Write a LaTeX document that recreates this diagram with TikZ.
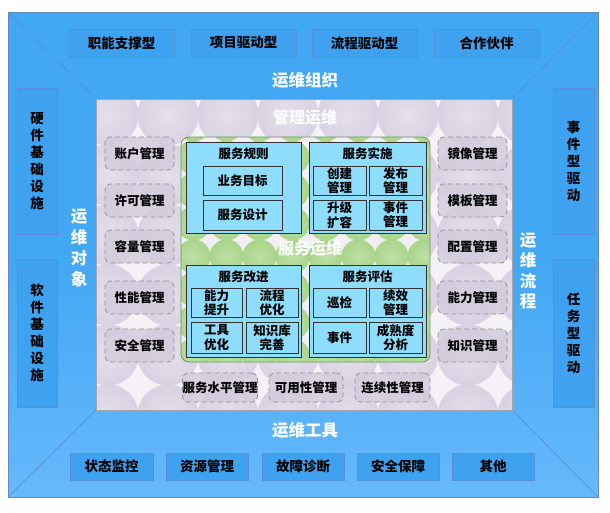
\documentclass[tikz,border=0pt]{standalone}
\usepackage{fontspec}
\setmainfont{Noto Sans CJK SC}
\usetikzlibrary{shadows}
\definecolor{frameblue}{HTML}{42A7F4}
\definecolor{framebot}{HTML}{66B9FB}
\definecolor{btnedge}{HTML}{5B8ED6}
\definecolor{btnfill}{HTML}{3FA2F0}
\definecolor{lav}{HTML}{D9D2E3}
\definecolor{lavgap}{HTML}{F4F2F7}
\definecolor{grn}{HTML}{A9D58A}
\definecolor{lblue}{HTML}{8EDDFC}
\definecolor{dashfill}{HTML}{D3CCDD}
\tikzset{
  btn/.style={draw=btnedge, fill=btnfill, line width=0.8pt, inner sep=0pt,
    font=\bfseries\fontsize{13.5}{16}\selectfont, text=black},
  sidebox/.style={btn, align=center, font=\bfseries\fontsize{13.5}{17}\selectfont},
  ttl/.style={text=white, font=\bfseries\fontsize{16.5}{20.5}\selectfont, inner sep=0pt, align=center},
  dbox/.style={draw=gray!85, dashed, dash pattern=on 5pt off 3pt, fill=dashfill, fill opacity=0.85, text opacity=1,
    rounded corners=6pt, inner sep=0pt, line width=0.8pt,
    font=\bfseries\fontsize{12.5}{15}\selectfont, text=black},
  lbox/.style={draw=black!80, fill=lblue, line width=0.8pt, inner sep=0pt,
    align=center, font=\bfseries\fontsize{12.5}{14.5}\selectfont, text=black},
  boxttl/.style={inner sep=0pt, font=\bfseries\fontsize{12.5}{15}\selectfont, text=black}
}
\begin{document}
\begin{tikzpicture}[x=1pt,y=-1pt]
\useasboundingbox (0,0) rectangle (610,512);
\fill[white] (0,0) rectangle (610,512);
% outer frame
\shade[top color=frameblue, bottom color=framebot, middle color=frameblue] (8,12) rectangle (598,497);
\draw[draw=btnedge!70!gray, line width=0.6pt] (8,12) rectangle (598,497);
\coordinate (o1) at (8,12); \coordinate (o2) at (598,12);
\coordinate (o3) at (598,497); \coordinate (o4) at (8,497);
\coordinate (i1) at (96,99); \coordinate (i2) at (512,99);
\coordinate (i3) at (512,410); \coordinate (i4) at (96,410);
\draw[btnedge, line width=0.6pt] (o1) -- (i1) (o2) -- (i2) (o3) -- (i3) (o4) -- (i4);
% inner patterned area
\begin{scope}
  \clip (96,99) rectangle (512,410);
  \fill[lavgap] (96,99) rectangle (512,410);
  \foreach \cx in {48,108,...,528} {
    \foreach \cy in {55,115,...,475} {
      \shade[inner color=lav!70, outer color=lav] (\cx,\cy) circle (30.5);
    }
  }
\end{scope}
\draw[gray!70, line width=0.8pt] (96,99) rectangle (512,410);
% green area
\begin{scope}
  \clip[rounded corners=8pt] (181,137) rectangle (430,362);
  \fill[lavgap!90!lav] (181,137) rectangle (430,362);
  \foreach \cx in {160.5,193.5,...,460} {
    \foreach \cy in {124.5,157.5,...,390} {
      \shade[inner color=grn!75, outer color=grn] (\cx,\cy) circle (17);
    }
  }
\end{scope}
\draw[gray!80!green, line width=0.8pt, rounded corners=8pt] (181,137) rectangle (430,362);

% titles
\node[ttl] (t1) at (305,80) {运维组织};
\node[ttl] (t2) at (305,430) {运维工具};
\node[ttl, font=\bfseries\fontsize{16.5}{20.7}\selectfont] (t3) at (79,248) {运\\维\\对\\象};
\node[ttl, font=\bfseries\fontsize{16.5}{20.5}\selectfont] (t4) at (528,271) {运\\维\\流\\程};
\node[ttl, text=white!95!lav, font=\bfseries\fontsize{16}{20}\selectfont] (t5) at (305,117) {管理运维};
\node[ttl, font=\bfseries\fontsize{16}{20}\selectfont] (t6) at (310,248) {服务运维};

% top buttons
\node[btn, minimum width=105pt, minimum height=28pt] (b1) at (121.5,43) {职能支撑型};
\node[btn, minimum width=105pt, minimum height=28pt] (b2) at (243.5,43) {项目驱动型};
\node[btn, minimum width=105pt, minimum height=28pt] (b3) at (364.5,43) {流程驱动型};
\node[btn, minimum width=105pt, minimum height=28pt] (b4) at (486.5,43) {合作伙伴};
% bottom buttons
\node[btn, minimum width=83pt, minimum height=27pt] (c1) at (111.5,466.5) {状态监控};
\node[btn, minimum width=82pt, minimum height=27pt] (c2) at (207,466.5) {资源管理};
\node[btn, minimum width=82pt, minimum height=27pt] (c3) at (303,466.5) {故障诊断};
\node[btn, minimum width=82pt, minimum height=27pt] (c4) at (398,466.5) {安全保障};
\node[btn, minimum width=82pt, minimum height=27pt] (c5) at (493,466.5) {其他};
% side boxes
\node[sidebox, minimum width=40pt, minimum height=146pt] (s1) at (37,161) {硬\\件\\基\\础\\设\\施};
\node[sidebox, minimum width=40pt, minimum height=148pt] (s2) at (37,333) {软\\件\\基\\础\\设\\施};
\node[sidebox, minimum width=41pt, minimum height=146pt] (s3) at (573.5,161) {事\\件\\型\\驱\\动};
\node[sidebox, minimum width=41pt, minimum height=148pt] (s4) at (573.5,333) {任\\务\\型\\驱\\动};

% dashed boxes left
\node[dbox, minimum width=69pt, minimum height=33pt] (d1) at (139.5,153.5) {账户管理};
\node[dbox, minimum width=69pt, minimum height=33pt] (d2) at (139.5,200.5) {许可管理};
\node[dbox, minimum width=69pt, minimum height=33pt] (d3) at (139.5,246.5) {容量管理};
\node[dbox, minimum width=69pt, minimum height=33pt] (d4) at (139.5,297.5) {性能管理};
\node[dbox, minimum width=69pt, minimum height=33pt] (d5) at (139.5,345.5) {安全管理};
% dashed boxes right
\node[dbox, minimum width=69pt, minimum height=33pt] (e1) at (472.5,153.5) {镜像管理};
\node[dbox, minimum width=69pt, minimum height=33pt] (e2) at (472.5,200.5) {模板管理};
\node[dbox, minimum width=69pt, minimum height=33pt] (e3) at (472.5,246.5) {配置管理};
\node[dbox, minimum width=69pt, minimum height=33pt] (e4) at (472.5,297.5) {能力管理};
\node[dbox, minimum width=69pt, minimum height=33pt] (e5) at (472.5,345.5) {知识管理};
% dashed boxes bottom
\node[dbox, minimum width=74pt, minimum height=29pt] (f1) at (220,387.5) {服务水平管理};
\node[dbox, minimum width=74pt, minimum height=29pt] (f2) at (306,387.5) {可用性管理};
\node[dbox, minimum width=75pt, minimum height=29pt] (f3) at (392.5,387.5) {连续性管理};

% four big boxes
\node[lbox, minimum width=115pt, minimum height=91pt] (g1) at (243.5,187.5) {};
\node[lbox, minimum width=117pt, minimum height=91pt] (g2) at (367.5,187.5) {};
\node[lbox, minimum width=115pt, minimum height=92pt] (g3) at (243.5,311) {};
\node[lbox, minimum width=117pt, minimum height=92pt] (g4) at (367.5,311) {};
\node[boxttl] (g1t) at (243.5,154) {服务规则};
\node[boxttl] (g2t) at (367.5,154) {服务实施};
\node[boxttl] (g3t) at (243.5,277) {服务改进};
\node[boxttl] (g4t) at (367.5,277) {服务评估};
% inner boxes
\node[lbox, minimum width=79pt, minimum height=29pt] (h1) at (242.5,180.5) {业务目标};
\node[lbox, minimum width=79pt, minimum height=30pt] (h2) at (242.5,215) {服务设计};
\node[lbox, minimum width=53pt, minimum height=29pt] (h3) at (339.5,180.5) {创建\\管理};
\node[lbox, minimum width=53pt, minimum height=29pt] (h4) at (395.5,180.5) {发布\\管理};
\node[lbox, minimum width=53pt, minimum height=30pt] (h5) at (339.5,215) {升级\\扩容};
\node[lbox, minimum width=53pt, minimum height=30pt] (h6) at (395.5,215) {事件\\管理};
\node[lbox, minimum width=51pt, minimum height=29pt] (k1) at (216.5,302.5) {能力\\提升};
\node[lbox, minimum width=52pt, minimum height=29pt] (k2) at (272,302.5) {流程\\优化};
\node[lbox, minimum width=51pt, minimum height=31pt] (k3) at (216.5,337.5) {工具\\优化};
\node[lbox, minimum width=52pt, minimum height=31pt] (k4) at (272,337.5) {知识库\\完善};
\node[lbox, minimum width=53pt, minimum height=29pt] (m1) at (339.5,302.5) {巡检};
\node[lbox, minimum width=53pt, minimum height=29pt] (m2) at (395.5,302.5) {续效\\管理};
\node[lbox, minimum width=53pt, minimum height=31pt] (m3) at (339.5,337.5) {事件};
\node[lbox, minimum width=53pt, minimum height=31pt] (m4) at (395.5,337.5) {成熟度\\分析};
\end{tikzpicture}
\end{document}
